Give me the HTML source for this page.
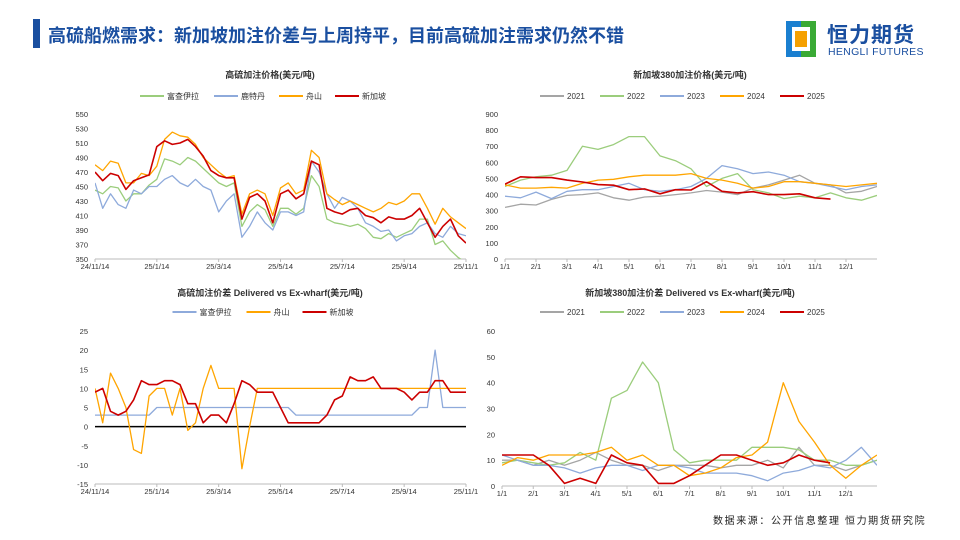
<!DOCTYPE html>
<html><head><meta charset="utf-8">
<style>
body{margin:0;width:960px;height:540px;background:#fff;overflow:hidden;font-family:"Liberation Sans","Noto Sans CJK SC",sans-serif;position:relative}
.t{position:absolute;white-space:nowrap}
</style></head><body>
<div class="t" style="left:33px;top:19px;width:7px;height:29px;background:#1a4fa0"></div>
<div class="t" style="left:48px;top:22px;font-size:18px;font-weight:bold;color:#1a4fa0">高硫船燃需求：新加坡加注价差与上周持平，目前高硫加注需求仍然不错</div>
<div class="t" style="left:786px;top:21px;width:150px;height:40px">
 <div style="position:absolute;left:0;top:0;width:30px;height:36px;background:#1a7fd0"></div>
 <div style="position:absolute;left:15px;top:0;width:15px;height:36px;background:#3aaa35"></div>
 <div style="position:absolute;left:6px;top:6px;width:18px;height:24px;background:#fff"></div>
 <div style="position:absolute;left:9px;top:10px;width:12px;height:16px;background:#f5a000"></div>
 <div style="position:absolute;left:41px;top:-2px;font-size:21px;font-weight:bold;color:#1a4fa0;letter-spacing:1px">恒力期货</div>
 <div style="position:absolute;left:42px;top:25px;font-size:10.5px;color:#1a4fa0;letter-spacing:0.3px">HENGLI FUTURES</div>
</div>
<div class="t" style="left:713px;top:512px;font-size:10px;letter-spacing:1.6px;color:#222">数据来源：公开信息整理 恒力期货研究院</div>
<svg id="s" width="960" height="540" style="position:absolute;left:0;top:0"></svg>
<script>
// Panel 1: HSFO bunker prices (weekly)
const p1Ticks=["24/11/14","25/1/14","25/3/14","25/5/14","25/7/14","25/9/14","25/11/1"];
const p1YTicks=[350,370,390,410,430,450,470,490,510,530,550];
const p1Fujairah=[445,440,450,448,430,440,440,452,460,488,485,480,490,485,475,465,455,450,455,395,415,425,418,395,420,420,412,420,465,450,405,400,398,395,398,392,380,378,385,380,385,390,405,405,370,375,362,352,345];
const p1Rotterdam=[455,420,440,425,420,445,440,450,450,460,465,455,450,460,450,445,415,430,440,380,395,415,400,390,415,415,410,415,485,470,440,420,435,430,420,400,395,388,390,375,382,385,395,400,385,380,395,385,382];
const p1Zhoushan=[480,472,485,482,455,455,468,465,478,515,525,520,518,508,490,480,470,462,465,412,440,445,440,410,448,455,440,445,500,490,440,432,425,430,425,420,415,420,428,425,430,440,440,420,398,420,408,400,392];
const p1Singapore=[470,458,468,465,446,458,462,466,505,513,508,510,515,505,492,472,465,462,462,405,435,440,430,400,440,445,433,440,485,480,420,415,412,418,420,410,407,400,408,405,405,410,420,400,380,395,405,382,372];
// Panel 2: Singapore 380 by year (semi-monthly)
const p2Ticks=["1/1","2/1","3/1","4/1","5/1","6/1","7/1","8/1","9/1","10/1","11/1","12/1"];
const p2YTicks=[0,100,200,300,400,500,600,700,800,900];
const p2Y2021=[320,340,335,370,395,400,410,380,365,385,390,400,410,425,415,400,440,460,490,520,470,460,410,420,450];
const p2Y2022=[450,490,510,520,550,700,680,710,760,760,640,610,560,450,500,530,430,410,375,390,380,410,380,365,395];
const p2Y2023=[390,380,415,375,420,430,430,450,470,430,420,430,450,500,580,560,530,540,520,480,470,450,430,450,460];
const p2Y2024=[460,440,440,445,440,470,490,495,510,520,520,520,530,500,490,470,440,450,480,480,470,460,450,460,470];
const p2Y2025=[465,510,505,505,490,478,462,458,430,435,405,430,428,480,420,410,418,400,400,405,380,372];
// Panel 3: delivered vs ex-wharf spread (weekly)
const p3YTicks=[-15,-10,-5,0,5,10,15,20,25];
const p3Fujairah=[3,3,3,3,3,3,3,3,5,5,5,5,5,5,5,5,5,5,5,5,5,5,5,5,5,5,3,3,3,3,3,3,3,3,3,3,3,3,3,3,3,3,5,5,20,5,5,5,5];
const p3Zhoushan=[10,1,14,10,5,-6,-7,8,10,10,3,10,-1,1,10,16,10,10,10,-11,0,10,10,10,10,10,10,10,10,10,10,10,10,10,10,10,10,10,10,10,10,10,10,10,10,10,10,10,10];
const p3Singapore=[9,10,4,3,4,7,12,11,11,12,12,11,6,6,1,3,3,1,6,12,11,9,9,9,5,1,1,1,1,1,3,7,8,13,12,12,13,10,10,10,9,7,9,9,12,12,9,9,9];
// Panel 4: Singapore 380 spread by year (semi-monthly)
const p4YTicks=[0,10,20,30,40,50,60];
const p4Y2021=[10,10,8,10,8,10,13,10,8,8,6,8,8,8,7,8,8,10,7,15,8,8,6,8,10];
const p4Y2022=[9,10,9,8,9,13,10,34,37,48,40,14,9,10,10,10,15,15,15,14,10,10,8,8,10];
const p4Y2023=[12,10,8,8,7,5,7,8,8,6,8,8,7,5,5,5,4,2,5,6,8,7,10,15,8];
const p4Y2024=[8,11,10,12,12,12,13,15,10,12,8,8,4,5,7,11,12,17,40,25,17,8,3,8,12];
const p4Y2025=[12,12,12,8,1,3,1,12,9,8,1,1,4,8,12,12,10,8,9,12,10,9];

const NS='http://www.w3.org/2000/svg';
const svg=document.getElementById('s');
function mk(tag,attrs,parent){const e=document.createElementNS(NS,tag);for(const k in attrs)e.setAttribute(k,attrs[k]);(parent||svg).appendChild(e);return e;}
function txt(x,y,s,size,anchor,parent,weight){const e=mk('text',{x:x,y:y,'font-size':size,'text-anchor':anchor||'start',fill:'#333','font-family':'Liberation Sans, Noto Sans CJK SC, sans-serif','font-weight':weight||'normal'},parent);e.textContent=s;return e;}
const C={green:'#9bcd7c',blue:'#8eaadb',orange:'#ffa500',red:'#cc0000',gray:'#a5a5a5'};
function chart(cfg){
 const g=mk('g',{});
 
 
 const ymin=cfg.yt[0],ymax=cfg.yt[cfg.yt.length-1];
 const ys=v=>cfg.y1-(v-ymin)/(ymax-ymin)*(cfg.y1-cfg.y0);
 const t=txt(cfg.cx,cfg.ty,cfg.title,9,'middle',g,'bold');
 
 let lw=0;cfg.series.forEach(s=>{lw+=28+s.label.length*(/\d/.test(s.label)?5.5:9)+10;});
 let lx=cfg.cx-lw/2;
 cfg.series.forEach(s=>{
  const lg=mk('g',{},g);
  
  
  mk('line',{x1:lx,y1:cfg.ly-3,x2:lx+24,y2:cfg.ly-3,stroke:s.color,'stroke-width':2},lg);
  txt(lx+27,cfg.ly,s.label,8,'start',lg);
  lx+=28+s.label.length*(/\d/.test(s.label)?5.5:9)+10;
 });
 cfg.yt.forEach(v=>{const e=txt(cfg.x0-7,ys(v)+3,String(v),7.5,'end',g);});
 cfg.xt.forEach((s,i)=>{const x=cfg.x0+(cfg.x1-cfg.x0)*i/(cfg.xdiv);mk('line',{x1:x,y1:cfg.y1,x2:x,y2:cfg.y1+3,stroke:'#bbb'},g);const e=txt(x,cfg.y1+10,s,7.5,cfg.xa||'middle',g);});
 mk('line',{x1:cfg.x0,y1:cfg.y1,x2:cfg.x1,y2:cfg.y1,stroke:'#bbb'},g);
 if(cfg.zero){const z=mk('line',{x1:cfg.x0,y1:ys(0),x2:cfg.x1,y2:ys(0),stroke:'#000','stroke-width':1.5},g);}
 const cid='c'+cfg.name;const cp=mk('clipPath',{id:cid},g);mk('rect',{x:cfg.x0,y:cfg.y0-2,width:cfg.x1-cfg.x0,height:cfg.y1-cfg.y0+2},cp);
 cfg.series.forEach(s=>{
  const pts=s.data.map((v,i)=>(cfg.x0+(cfg.x1-cfg.x0)*i/cfg.steps).toFixed(1)+','+ys(v).toFixed(1)).join(' ');
  const p=mk('polyline',{points:pts,fill:'none',stroke:s.color,'stroke-width':s.w||1.3,'clip-path':'url(#'+cid+')','stroke-linejoin':'round'},g);
  
  
 });
}
chart({name:'hsfo-price-chart',title:'高硫加注价格(美元/吨)',cx:270,ty:78,ly:99,x0:95,x1:466,y0:114,y1:259,yt:p1YTicks,xt:p1Ticks,xdiv:6,steps:48,
 series:[{key:'fujairah',label:'富查伊拉',data:p1Fujairah,color:C.green},{key:'rotterdam',label:'鹿特丹',data:p1Rotterdam,color:C.blue},{key:'zhoushan',label:'舟山',data:p1Zhoushan,color:C.orange},{key:'singapore',label:'新加坡',data:p1Singapore,color:C.red,w:1.6}]});
chart({name:'sg380-price-chart',title:'新加坡380加注价格(美元/吨)',cx:690,ty:78,ly:99,x0:505,x1:877,y0:114,y1:259,yt:p2YTicks,xt:p2Ticks,xdiv:12,steps:24,
 series:[{key:'2021',label:'2021',data:p2Y2021,color:C.gray},{key:'2022',label:'2022',data:p2Y2022,color:C.green},{key:'2023',label:'2023',data:p2Y2023,color:C.blue},{key:'2024',label:'2024',data:p2Y2024,color:C.orange},{key:'2025',label:'2025',data:p2Y2025,color:C.red,w:1.6}]});
chart({name:'hsfo-spread-chart',title:'高硫加注价差 Delivered vs Ex-wharf(美元/吨)',cx:270,ty:296,ly:315,x0:95,x1:466,y0:331,y1:484,yt:p3YTicks,xt:p1Ticks,xdiv:6,steps:48,zero:true,
 series:[{key:'fujairah',label:'富查伊拉',data:p3Fujairah,color:C.blue},{key:'zhoushan',label:'舟山',data:p3Zhoushan,color:C.orange},{key:'singapore',label:'新加坡',data:p3Singapore,color:C.red,w:1.6}]});
chart({name:'sg380-spread-chart',title:'新加坡380加注价差 Delivered vs Ex-wharf(美元/吨)',cx:690,ty:296,ly:315,x0:502,x1:877,y0:331,y1:486,yt:p4YTicks,xt:p2Ticks,xdiv:12,steps:24,
 series:[{key:'2021',label:'2021',data:p4Y2021,color:C.gray},{key:'2022',label:'2022',data:p4Y2022,color:C.green},{key:'2023',label:'2023',data:p4Y2023,color:C.blue},{key:'2024',label:'2024',data:p4Y2024,color:C.orange},{key:'2025',label:'2025',data:p4Y2025,color:C.red,w:1.6}]});
</script>
</body></html>
